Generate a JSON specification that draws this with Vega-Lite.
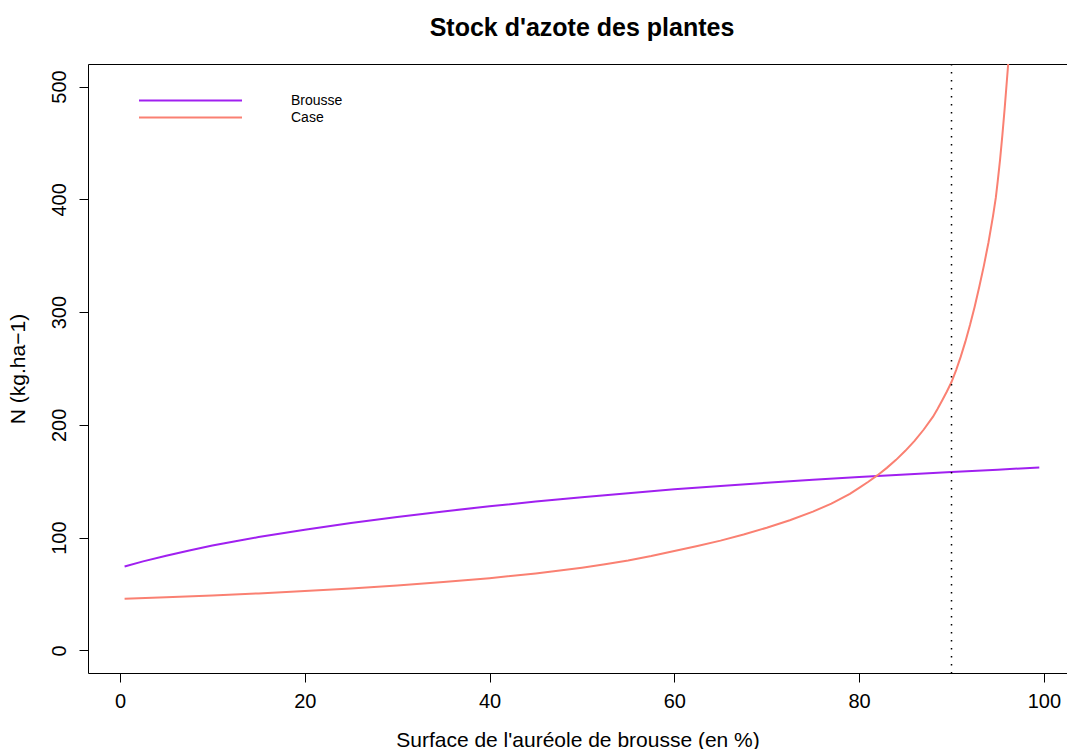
{
  "$schema": "https://vega.github.io/schema/vega-lite/v6.json",
  "width": 979,
  "height": 609,
  "autosize": {"type": "none"},
  "padding": {"left": 88, "top": 64, "right": 0, "bottom": 76},
  "background": "white",
  "config": {
    "font": "Liberation Sans",
    "view": {"stroke": "black", "strokeWidth": 1},
    "axis": {
      "domain": false,
      "grid": false,
      "tickColor": "black",
      "tickSize": 9,
      "labelColor": "black",
      "labelFontSize": 20,
      "titleColor": "black",
      "titleFontSize": 21,
      "titleFontWeight": "normal"
    }
  },
  "title": {
    "text": "Stock d'azote des plantes",
    "fontSize": 25,
    "fontWeight": "bold",
    "color": "black",
    "anchor": "middle",
    "baseline": "alphabetic",
    "offset": 2,
    "dx": 4.5
  },
  "layer": [
    {
      "data": {
        "values": [
          {"serie": "Brousse", "x": 0.5, "y": 74.5},
          {"serie": "Brousse", "x": 2.5, "y": 79.0},
          {"serie": "Brousse", "x": 5, "y": 84.0},
          {"serie": "Brousse", "x": 7.5, "y": 88.7},
          {"serie": "Brousse", "x": 10, "y": 93.0},
          {"serie": "Brousse", "x": 12.5, "y": 96.9},
          {"serie": "Brousse", "x": 15, "y": 100.5},
          {"serie": "Brousse", "x": 20, "y": 107.0},
          {"serie": "Brousse", "x": 25, "y": 113.0},
          {"serie": "Brousse", "x": 30, "y": 118.3},
          {"serie": "Brousse", "x": 35, "y": 123.3},
          {"serie": "Brousse", "x": 40, "y": 127.8},
          {"serie": "Brousse", "x": 45, "y": 132.0},
          {"serie": "Brousse", "x": 50, "y": 135.8},
          {"serie": "Brousse", "x": 55, "y": 139.4},
          {"serie": "Brousse", "x": 60, "y": 142.9},
          {"serie": "Brousse", "x": 65, "y": 145.9},
          {"serie": "Brousse", "x": 70, "y": 148.7},
          {"serie": "Brousse", "x": 75, "y": 151.3},
          {"serie": "Brousse", "x": 80, "y": 153.8},
          {"serie": "Brousse", "x": 85, "y": 156.0},
          {"serie": "Brousse", "x": 90, "y": 158.2},
          {"serie": "Brousse", "x": 95, "y": 160.3},
          {"serie": "Brousse", "x": 99.5, "y": 162.3},
          {"serie": "Case", "x": 0.5, "y": 45.8},
          {"serie": "Case", "x": 5, "y": 47.2},
          {"serie": "Case", "x": 10, "y": 48.8},
          {"serie": "Case", "x": 15, "y": 50.6},
          {"serie": "Case", "x": 20, "y": 52.6},
          {"serie": "Case", "x": 25, "y": 54.9},
          {"serie": "Case", "x": 30, "y": 57.5},
          {"serie": "Case", "x": 35, "y": 60.6},
          {"serie": "Case", "x": 40, "y": 64.1},
          {"serie": "Case", "x": 45, "y": 68.3},
          {"serie": "Case", "x": 50, "y": 73.4},
          {"serie": "Case", "x": 52.5, "y": 76.4},
          {"serie": "Case", "x": 55, "y": 79.8},
          {"serie": "Case", "x": 57.5, "y": 83.7},
          {"serie": "Case", "x": 60, "y": 88.2},
          {"serie": "Case", "x": 62.5, "y": 92.6},
          {"serie": "Case", "x": 65, "y": 97.4},
          {"serie": "Case", "x": 67.5, "y": 102.8},
          {"serie": "Case", "x": 70, "y": 108.8},
          {"serie": "Case", "x": 72.5, "y": 115.5},
          {"serie": "Case", "x": 75, "y": 123.1},
          {"serie": "Case", "x": 77, "y": 130.2},
          {"serie": "Case", "x": 79, "y": 138.9},
          {"serie": "Case", "x": 80, "y": 144.2},
          {"serie": "Case", "x": 81, "y": 149.6},
          {"serie": "Case", "x": 82, "y": 155.4},
          {"serie": "Case", "x": 83, "y": 161.9},
          {"serie": "Case", "x": 84, "y": 169.0},
          {"serie": "Case", "x": 85, "y": 177.0},
          {"serie": "Case", "x": 86, "y": 185.8},
          {"serie": "Case", "x": 87, "y": 195.9},
          {"serie": "Case", "x": 88, "y": 207.3},
          {"serie": "Case", "x": 88.5, "y": 214.3},
          {"serie": "Case", "x": 89, "y": 221.9},
          {"serie": "Case", "x": 89.5, "y": 229.6},
          {"serie": "Case", "x": 90, "y": 238.0},
          {"serie": "Case", "x": 90.5, "y": 248.6},
          {"serie": "Case", "x": 91, "y": 260.5},
          {"serie": "Case", "x": 91.5, "y": 273.8},
          {"serie": "Case", "x": 92, "y": 288.5},
          {"serie": "Case", "x": 92.5, "y": 304.6},
          {"serie": "Case", "x": 93, "y": 322.2},
          {"serie": "Case", "x": 93.5, "y": 341.0},
          {"serie": "Case", "x": 94, "y": 361.7},
          {"serie": "Case", "x": 94.5, "y": 385.5},
          {"serie": "Case", "x": 94.8, "y": 401.7},
          {"serie": "Case", "x": 95, "y": 416.0},
          {"serie": "Case", "x": 95.25, "y": 434.8},
          {"serie": "Case", "x": 95.5, "y": 456.5},
          {"serie": "Case", "x": 95.75, "y": 480.2},
          {"serie": "Case", "x": 96, "y": 506.0},
          {"serie": "Case", "x": 96.15, "y": 521.5}
        ]
      },
      "mark": {"type": "line", "clip": true, "strokeWidth": 2},
      "encoding": {
        "x": {
          "field": "x",
          "type": "quantitative",
          "scale": {"domain": [-3.46, 102.5], "nice": false, "zero": false},
          "axis": {
            "values": [0, 20, 40, 60, 80, 100],
            "title": "Surface de l'auréole de brousse (en %)",
            "labelPadding": 9,
            "titlePadding": 18
          }
        },
        "y": {
          "field": "y",
          "type": "quantitative",
          "scale": {"domain": [-20, 520], "nice": false, "zero": false},
          "axis": {
            "values": [0, 100, 200, 300, 400, 500],
            "title": "N (kg.ha\u22121)",
            "labelAngle": 270,
            "labelAlign": "center",
            "labelBaseline": "bottom",
            "labelPadding": 10,
            "titlePadding": 21
          }
        },
        "color": {
          "field": "serie",
          "type": "nominal",
          "scale": {"domain": ["Brousse", "Case"], "range": ["#A020F0", "#FA8072"]},
          "legend": {
            "title": null,
            "orient": "none",
            "legendX": 50,
            "legendY": 28,
            "symbolType": "stroke",
            "symbolSize": 10609,
            "symbolStrokeWidth": 2,
            "labelFontSize": 14,
            "labelColor": "black",
            "labelOffset": 48,
            "clipHeight": 17,
            "rowPadding": 0,
            "padding": 0,
            "symbolOffset": 0
          }
        }
      }
    },
    {
      "data": {"values": [{"x": 90}]},
      "mark": {"type": "rule", "strokeDash": [1.5, 6.5], "strokeWidth": 1.5, "color": "black"},
      "encoding": {"x": {"field": "x", "type": "quantitative"}}
    }
  ]
}
